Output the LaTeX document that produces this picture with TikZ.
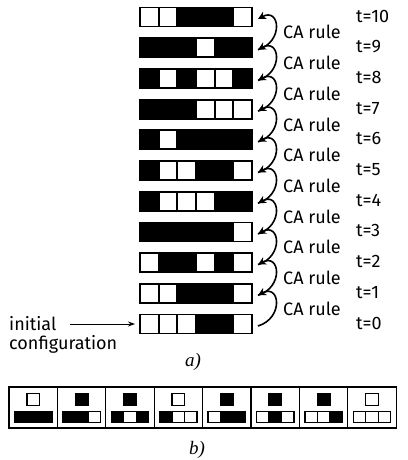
\documentclass[tikz,border=0pt]{standalone}
\usepackage{fontspec}
\newfontfamily\lab{Fira Sans}
\newfontfamily\capfont{Liberation Serif}
\usetikzlibrary{arrows.meta}
\newcommand\setcol[2]{\ifnum#2=1 \def#1{black}\else\def#1{white}\fi}
\begin{document}
\begin{tikzpicture}[x=1pt,y=-1pt,
  cell/.style={draw=black,line width=1.8pt,minimum width=18.67pt,minimum height=19pt,inner sep=0pt,outer sep=0pt},
  lbl/.style={font=\lab\fontsize{18}{20}\selectfont,inner sep=0pt,anchor=west},
  arc/.style={line width=1.6pt,-{Stealth[length=8pt,width=8pt]}},
  rframe/.style={draw=black,line width=1.2pt,minimum width=48.4pt,minimum height=41pt,inner sep=0pt,outer sep=0pt},
  topsq/.style={draw=black,line width=1.4pt,minimum width=12.5pt,minimum height=12.5pt,inner sep=0pt},
  bcell/.style={draw=black,line width=1.4pt,minimum width=12.5pt,minimum height=11.5pt,inner sep=0pt},
  caplbl/.style={font=\capfont\fontsize{19}{21}\selectfont\itshape,inner sep=0pt}]
\useasboundingbox (0,0) rectangle (407,460);
% rows of the automaton
\foreach \t/\row in {0/{0,0,0,1,1,0},1/{0,0,1,1,1,0},2/{0,1,1,0,1,0},3/{1,1,1,1,1,0},4/{1,0,0,0,1,1},5/{1,0,0,1,1,0},6/{1,0,1,1,1,1},7/{1,1,1,0,0,0},8/{1,0,1,0,0,1},9/{1,1,1,0,1,1},10/{0,0,1,1,1,0}}{
  \pgfmathsetmacro\y{324-30.7*\t}
  \foreach \v [count=\i from 0] in \row {
    \setcol\cc{\v}
    \node[cell,fill=\cc] (c\t-\i) at ({149.3+18.67*\i},\y) {};
  }
  \coordinate (r\t) at (258,\y+2);
  \node[lbl] (tl\t) at (356,\y-1) {t=\t};
}
% CA rule arcs
\foreach \t [evaluate=\t as \u using int(\t+1)] in {0,...,9}{
  \draw[arc] (r\t) .. controls +(26,-8) and +(22,-12) .. (r\u);
  \pgfmathsetmacro\ym{324-30.7*\t-15.35}
  \node[lbl] (ca\t) at (283,\ym) {CA rule};
}
% initial configuration
\node[lbl] (init) at (9,324) {initial};
\node[lbl] (conf) at (9,344) {configuration};
\coordinate (ia) at (70,324);
\draw[line width=0.9pt,-{Stealth[length=7pt,width=5pt]}] (ia) -- ([xshift=-5pt]c0-0.west);
\node[caplbl] (la) at (193,362) {a)};
% rule table
\foreach \k/\a/\b/\c/\o in {0/1/1/1/0,1/1/1/0/1,2/1/0/1/1,3/1/0/0/0,4/0/1/1/1,5/0/1/0/1,6/0/0/1/1,7/0/0/0/0}{
  \pgfmathsetmacro\cx{9+48.4*\k+24.2}
  \node[rframe] (f\k) at (\cx,407.5) {};
  \setcol\co{\o}\setcol\ca{\a}\setcol\cb{\b}\setcol\cc{\c}
  \node[topsq,fill=\co] (o\k) at (\cx,399.5) {};
  \node[bcell,fill=\ca] (a\k) at (\cx-12.5,417) {};
  \node[bcell,fill=\cb] (b\k) at (\cx,417) {};
  \node[bcell,fill=\cc] (d\k) at (\cx+12.5,417) {};
}
\node[caplbl] (lb) at (197,450) {b)};
\end{tikzpicture}
\end{document}
